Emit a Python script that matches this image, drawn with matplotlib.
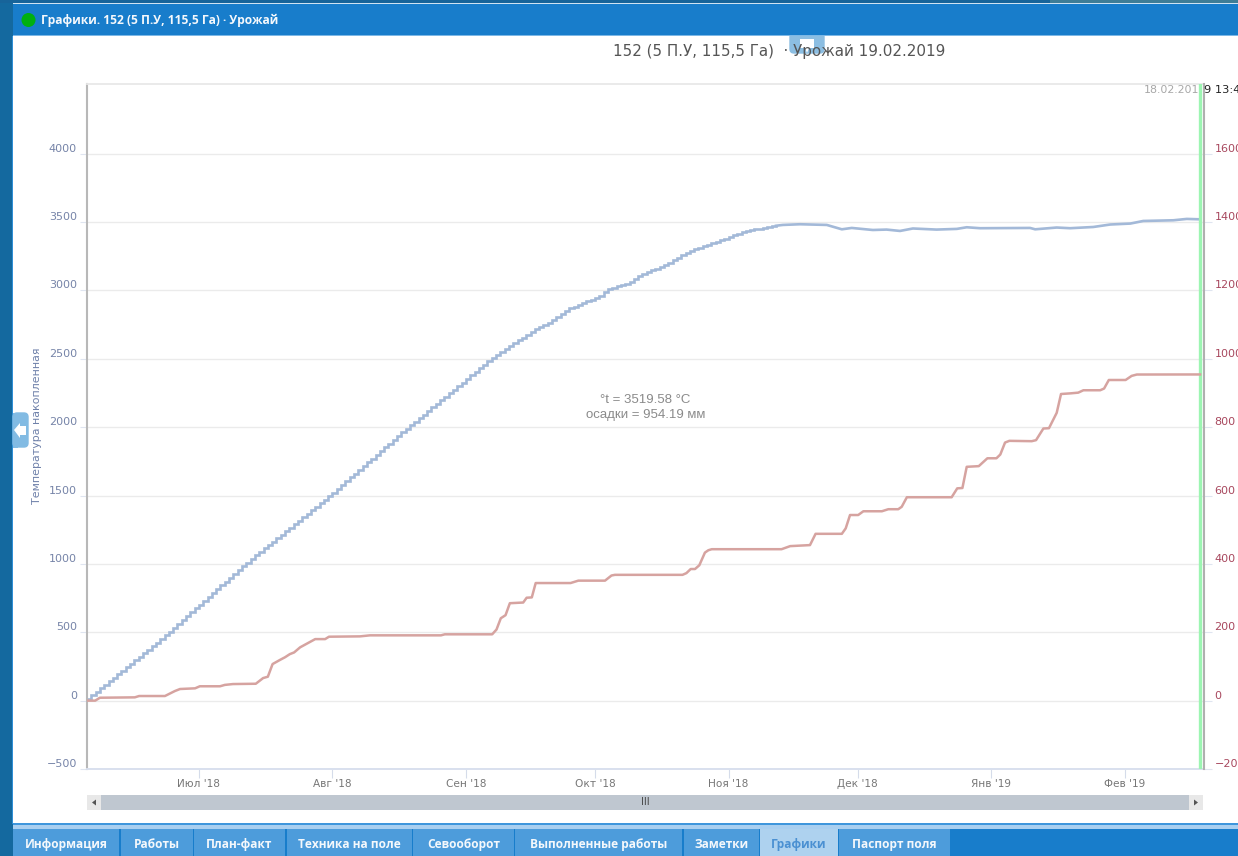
import datetime as dt
import numpy as np
import matplotlib
matplotlib.use("Agg")
import matplotlib.pyplot as plt
import matplotlib.dates as mdates
from matplotlib.patches import Rectangle, Circle, FancyBboxPatch, Polygon

W, H = 1238, 856
START = dt.datetime(2018, 6, 5)

# Accumulated temperature, daily readings from day 0 (stepped part of the curve)
temp_daily = [15, 40, 66, 91, 117, 143, 168, 194, 219, 245, 270, 296, 322, 347, 373, 398, 424, 450, 477,
              505, 533, 561, 590, 618, 646, 674, 702, 731, 759, 787, 815, 843, 871, 899, 927, 955, 983, 1010,
              1036, 1062, 1087, 1113, 1138, 1163, 1188, 1214, 1239, 1265, 1290, 1316, 1341, 1366, 1392, 1417, 1443, 1469, 1495,
              1522, 1549, 1577, 1604, 1632, 1660, 1687, 1715, 1742, 1770, 1797, 1825, 1852, 1880, 1907, 1934, 1961, 1988,
              2014, 2040, 2066, 2092, 2118, 2144, 2170, 2196, 2222, 2248, 2274, 2300, 2326, 2352, 2378, 2404, 2430, 2456, 2482,
              2504, 2528, 2550, 2572, 2594, 2614, 2634, 2652, 2675, 2698, 2718, 2733, 2748, 2763, 2782, 2804, 2826, 2848, 2868,
              2882, 2894, 2907, 2920, 2932, 2945, 2962, 2985, 3007, 3018, 3029, 3040, 3050, 3065, 3085, 3105, 3122, 3134, 3146,
              3158, 3170, 3185, 3204, 3222, 3240, 3258, 3276, 3289, 3300, 3311, 3322, 3333, 3344, 3354, 3366, 3378, 3390, 3402,
              3414, 3424, 3432, 3439, 3446, 3452, 3459, 3465, 3469, 3473]

# Later, almost flat part of the curve
temp_late_days = [160, 161.6, 165.6, 171.8, 175.3, 177.6, 182.5, 185.7, 188.8, 191.8, 197.3, 202, 204.3, 207.4,
                  219, 220.2, 225.2, 228.3, 233.7, 237.6, 242.3, 245.3, 252.3, 255.4, 258.5]
temp_late_vals = [3473, 3479, 3484, 3479, 3447, 3457, 3442, 3445, 3435, 3453, 3445, 3450, 3462, 3455,
                  3457, 3447, 3460, 3455, 3464, 3482, 3489, 3508, 3513, 3523, 3520]

# Accumulated precipitation
rain_days = [0, 1.9, 3.0, 11.1, 12.1, 18.1, 20.4, 21.6, 25.1, 26.2, 30.9, 32.0, 33.9, 39.2, 40.9, 42.0, 43.1, 44.8,
             46, 47.1, 48.1, 49.5, 53, 55.3, 56.2, 63.4, 65.7, 82.2, 83.1, 94.1, 95.1, 96.1, 97.2, 98.2, 101.3, 102.1,
             103.3, 104.2, 112.3, 114.1, 120.3, 121.8, 122.6, 138.3, 139.2, 140.2, 141.2, 142.2, 143.5, 144.3, 145.1,
             161.3, 163.3, 167.9, 169.2, 175.3, 176.2, 177.2, 179.1, 180.3, 184.6, 186.1, 188.4, 189.2, 190.4, 200.8,
             202.1, 203.3, 204.3, 207.1, 209.1, 211.2, 212.1, 213.2, 214.2, 219.4, 220.4, 222.1, 223.4, 225.2, 226.2,
             228.5, 230.2, 231.4, 235.3, 236.2, 237.3, 241.2, 242.6, 243.8, 258.5]
rain_vals = [0, 0, 8.5, 9.6, 13.5, 13.5, 28, 34, 36, 42, 42, 46, 48.5, 49.4, 66, 70, 107, 119,
             127, 136, 141, 156, 180, 180, 187, 188, 191, 191, 194, 194, 208, 241, 250, 285, 287, 301,
             302, 344, 344, 351, 351, 366, 368, 368, 373, 385, 385, 396, 433, 440, 443,
             443, 452, 455, 488, 488, 504, 543, 543, 554, 554, 560, 560, 567, 595, 595,
             621, 622, 684, 686, 709, 709, 720, 755, 760, 759, 762, 796, 797, 842, 897,
             899, 901, 908, 908, 913, 938, 938, 950, 954, 954.19]

left_ticks = [-500, 0, 500, 1000, 1500, 2000, 2500, 3000, 3500, 4000]
right_ticks = [-200, 0, 200, 400, 600, 800, 1000, 1200, 1400, 1600]
month_dates = [dt.datetime(2018, 7, 1), dt.datetime(2018, 8, 1), dt.datetime(2018, 9, 1), dt.datetime(2018, 10, 1),
               dt.datetime(2018, 11, 1), dt.datetime(2018, 12, 1), dt.datetime(2019, 1, 1), dt.datetime(2019, 2, 1)]
month_labels = ["Июл '18", "Авг '18", "Сен '18", "Окт '18", "Ноя '18", "Дек '18", "Янв '19", "Фев '19"]
tab_names = ["Информация", "Работы", "План-факт", "Техника на поле", "Севооборот",
             "Выполненные работы", "Заметки", "Графики", "Паспорт поля"]
tab_edges = [(13, 119), (121, 193), (194, 285), (287, 412), (413, 514), (515, 682), (684, 759), (760, 838), (839, 950)]
cursor_day = 258.57

plt.rcParams["font.family"] = ["DejaVu Sans"]
fig = plt.figure(figsize=(W / 100, H / 100), dpi=100, facecolor="white")

# window chrome, in pixel coordinates
bg = fig.add_axes([0, 0, 1, 1], zorder=0)
bg.set_xlim(0, W)
bg.set_ylim(H, 0)
bg.axis("off")


def rect(x0, y0, x1, y1, c, **kw):
    bg.add_patch(Rectangle((x0, y0), x1 - x0, y1 - y0, fc=c, ec="none", **kw))


rect(0, 0, 13, H, "#14699f")
rect(12, 36, 13, 824, "#2f8fd6")
rect(0, 0, 1050, 3, "#17649a")
rect(1050, 0, W, 3, "#3f7d96")
rect(13, 3, W, 4, "#cfe3f2")
rect(13, 4, W, 35, "#187dcb")
rect(13, 35, W, 36, "#7db8e6")
rect(13, 823, W, 825, "#3f96dc")
rect(13, 825, W, 829, "#a9cff0")
rect(13, 829, W, H, "#187dcb")
for name, (a, b) in zip(tab_names, tab_edges):
    active = name == "Графики"
    rect(a, 829, b, H, "#aed2ef" if active else "#4d9cdb")
    bg.text((a + b) / 2, 844.5, name, ha="center", va="center", fontsize=8.6, fontweight="bold",
            family="Open Sans", color="#4a90d2" if active else "#f4f8fc")
bg.add_patch(Circle((28.5, 20), 7, fc="#00b010", ec="none"))
bg.text(41, 20, "Графики. 152 (5 П.У, 115,5 Га) · Урожай", ha="left", va="center", fontsize=8.65,
        fontweight="bold", family="Open Sans", color="#f4f8fc")

# collapse handles
bg.add_patch(FancyBboxPatch((13, 413), 15, 34, boxstyle="round,pad=0,rounding_size=4", fc="#82bbe3", ec="#82bbe3", lw=1))
rect(13, 413, 18, 447.5, "#82bbe3")
bg.add_patch(Polygon([(14, 430), (20, 423), (20, 426), (26, 426), (26, 435), (20, 435), (20, 438)], fc="white", ec="none"))
bg.add_patch(FancyBboxPatch((790, 33), 34, 20, boxstyle="round,pad=0,rounding_size=4", fc="#8cbee2", ec="#8cbee2", lw=1))
rect(13, 30, W, 35, "#187dcb")
rect(13, 35, W, 36, "#7db8e6")
bg.add_patch(Polygon([(800, 39), (814, 39), (814, 48), (809, 48), (807, 53), (805, 48), (800, 48)], fc="white", ec="none"))

# scrollbar
rect(87, 795, 1203, 810, "#bfc7d0")
rect(87, 795, 101, 810, "#e8e8e8")
rect(1189, 795, 1203, 810, "#e8e8e8")
bg.add_patch(Polygon([(96, 799.5), (96, 805.5), (92, 802.5)], fc="#555555", ec="none"))
bg.add_patch(Polygon([(1194, 799.5), (1194, 805.5), (1198, 802.5)], fc="#555555", ec="none"))
bg.text(645, 802, "III", ha="center", va="center", fontsize=7, color="#444444")

# chart
AX_L, AX_R, AX_T, AX_B = 87, 1203.5, 84, 769
ax = fig.add_axes([AX_L / W, 1 - AX_B / H, (AX_R - AX_L) / W, (AX_B - AX_T) / H], zorder=2)
ax.patch.set_alpha(0)
ax2 = ax.twinx()
ax2.set_zorder(3)
ax2.patch.set_alpha(0)


def d2n(days):
    return mdates.date2num(START) + np.asarray(days, dtype=float)


BLUE, RED = "#a3b9d8", "#d6a3a0"
ax.plot(d2n(np.arange(len(temp_daily))), temp_daily, color=BLUE, lw=1.9, drawstyle="steps-post", solid_joinstyle="miter")
ax.plot(d2n(temp_late_days), temp_late_vals, color=BLUE, lw=1.9)
ax2.plot(d2n(rain_days), rain_vals, color=RED, lw=1.8)

ax.set_xlim(d2n(0), d2n((AX_R - AX_L) / 4.306))
ax.set_ylim(-500, 4509.7)
ax2.set_ylim(-200, 1803.9)

ax.axvline(d2n(cursor_day), color="#9df5b2", lw=2.4, zorder=5)

ax.set_yticks(left_ticks)
ax.set_yticklabels([str(v).replace("-", "−") for v in left_ticks], va="bottom")
ax2.set_yticks(right_ticks)
ax2.set_yticklabels([str(v).replace("-", "−") for v in right_ticks], va="bottom")
ax.set_xticks(mdates.date2num(month_dates))
ax.set_xticklabels(month_labels)

ax.grid(axis="y", color="#ebebeb", lw=1)
ax.set_axisbelow(True)
ax.tick_params(axis="y", length=5, width=0.8, color="#dfe5f0", labelcolor="#7684a8", labelsize=8, pad=2.2)
ax2.tick_params(axis="y", length=5.8, width=0.8, color="#dfe5f0", labelcolor="#a8485e", labelsize=8, pad=2.2)
ax.tick_params(axis="x", length=6.5, width=0.8, color="#d5dcea", labelcolor="#777777", labelsize=7.6, pad=1)

for a in (ax, ax2):
    for s in a.spines.values():
        s.set_visible(False)
ax.spines["left"].set_visible(True)
ax.spines["left"].set_color("#b8b8b8")
ax.spines["left"].set_linewidth(1.5)
ax2.spines["right"].set_visible(True)
ax2.spines["right"].set_color("#b0b0b0")
ax2.spines["right"].set_linewidth(1.5)
ax.spines["top"].set_visible(True)
ax.spines["top"].set_color("#e8e8e8")
ax.spines["top"].set_linewidth(1.3)
ax.spines["bottom"].set_visible(True)
ax.spines["bottom"].set_color("#d9e0ee")
ax.spines["bottom"].set_linewidth(1.4)

# extra texts on top, in pixel coordinates
fg = fig.add_axes([0, 0, 1, 1], zorder=4)
fg.set_xlim(0, W)
fg.set_ylim(H, 0)
fg.axis("off")
fg.text(779, 51, "152 (5 П.У, 115,5 Га)  · Урожай 19.02.2019", ha="center", va="center", fontsize=10.9, color="#555555")
fg.text(37, 426, "Температура накопленная", rotation=90, ha="center", va="center", fontsize=7.9, color="#6f81aa")
fg.text(1199.5, 90, "18.02.201", ha="right", va="center", fontsize=7.9, color="#a8a8a8")
fg.text(1204, 90, "9 13:45", ha="left", va="center", fontsize=8.2, color="#222222")
fg.text(645.5, 400, "°t = 3519.58 °C", ha="center", va="center", fontsize=9.5, family="Liberation Sans", color="#8a8a8a")
fg.text(645.5, 415, "осадки = 954.19 мм", ha="center", va="center", fontsize=9.5, family="Liberation Sans", color="#8a8a8a")

fig.savefig("out.png", dpi=100, facecolor="white")
